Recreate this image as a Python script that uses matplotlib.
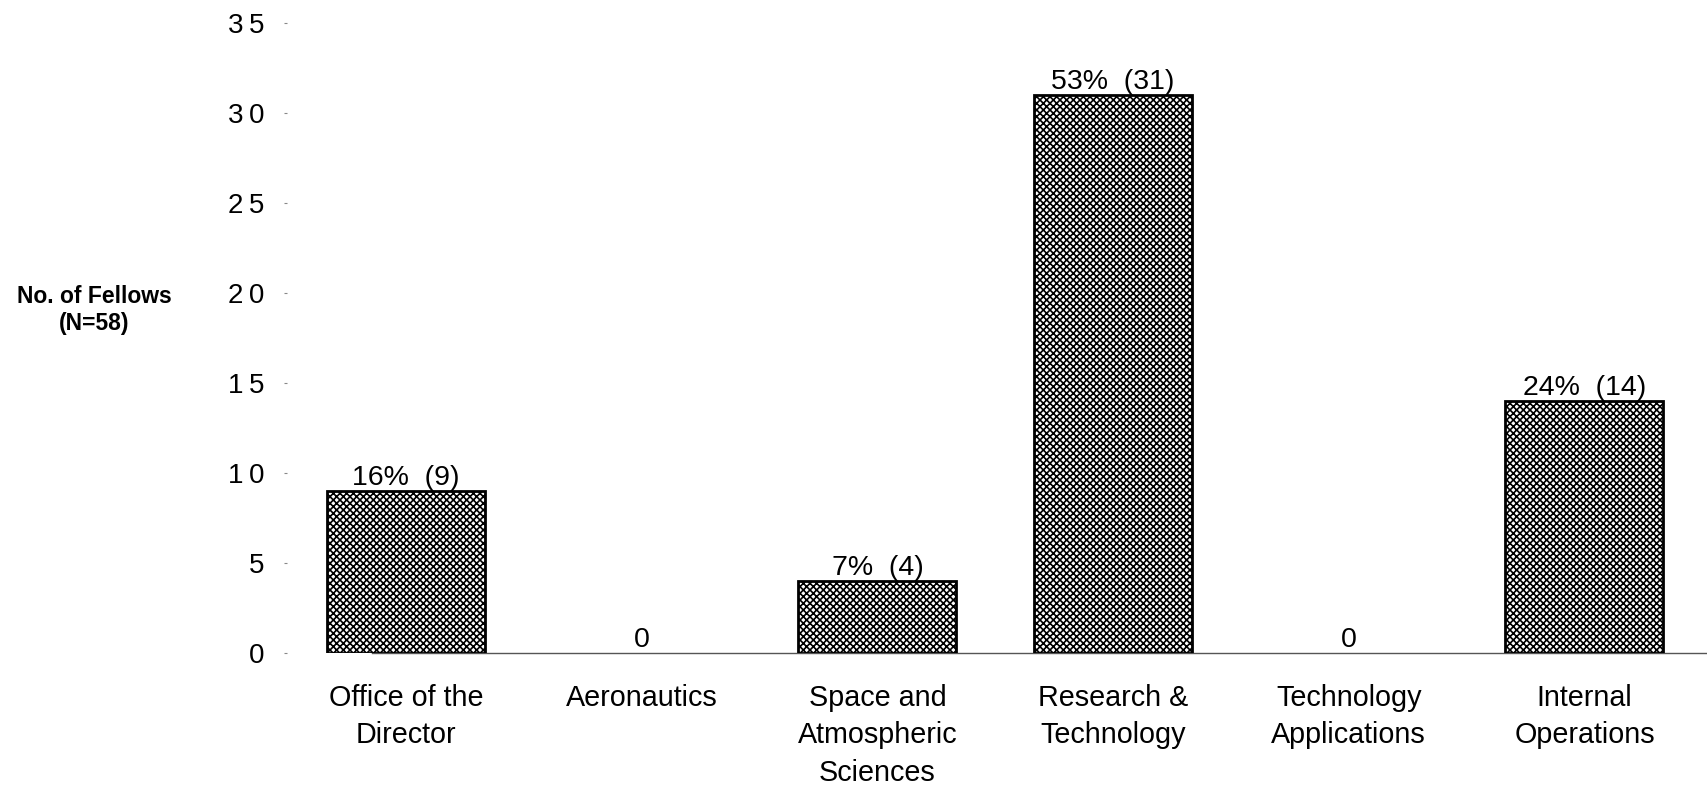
import matplotlib
matplotlib.use("Agg")
import matplotlib.pyplot as plt

# Fellows by directorate
categories = ["Office of the\nDirector", "Aeronautics", "Space and\nAtmospheric\nSciences",
              "Research &\nTechnology", "Technology\nApplications", "Internal\nOperations"]
counts = [9, 0, 4, 31, 0, 14]
percents = ["16%", None, "7%", "53%", None, "24%"]
yticks = [0, 5, 10, 15, 20, 25, 30, 35]

plt.rcParams["font.family"] = ["Liberation Sans", "DejaVu Sans"]
plt.rcParams["hatch.linewidth"] = 1.2

fig = plt.figure(figsize=(17.07, 7.88), dpi=100)
ax = fig.add_axes([287 / 1707, 1 - 653 / 788, 1 - 287 / 1707, (653 - 23) / 788])

x = list(range(len(categories)))
edge_widths = [2.0 if c > 0 else 0.0 for c in counts]
ax.bar(x, counts, width=0.67, facecolor="white", edgecolor="black",
       linewidth=edge_widths, hatch="xxxxx", zorder=3)

# value labels above each bar
for xi, c, p in zip(x, counts, percents):
    label = f"{p}  ({c})" if p else f"{c}"
    ax.text(xi, c, label, ha="center", va="bottom", fontsize=20.5, zorder=4)

# baseline
ax.plot([0.06, 1.0], [0, 0], transform=ax.get_yaxis_transform(),
        color="#555555", lw=1.0, zorder=2, clip_on=False)

ax.set_xlim(-0.505, 5.52)
ax.set_ylim(0, 35)
ax.set_yticks(yticks)
ax.set_yticklabels(["\u2009".join(str(t)) for t in yticks], fontsize=20)
ax.set_xticks(x)
ax.set_xticklabels(categories, fontsize=20.7, linespacing=1.45, va="top")

ax.tick_params(axis="y", length=2.5, width=0.8, color="#888888", pad=14)
ax.tick_params(axis="x", length=0, pad=22)

for s in ax.spines.values():
    s.set_visible(False)

fig.text(94 / 1707, 1 - 310 / 788, "No. of Fellows\n(N=58)", ha="center", va="center",
         fontsize=16.5, fontweight="bold", linespacing=1.25)

fig.savefig("out.png", dpi=100)
